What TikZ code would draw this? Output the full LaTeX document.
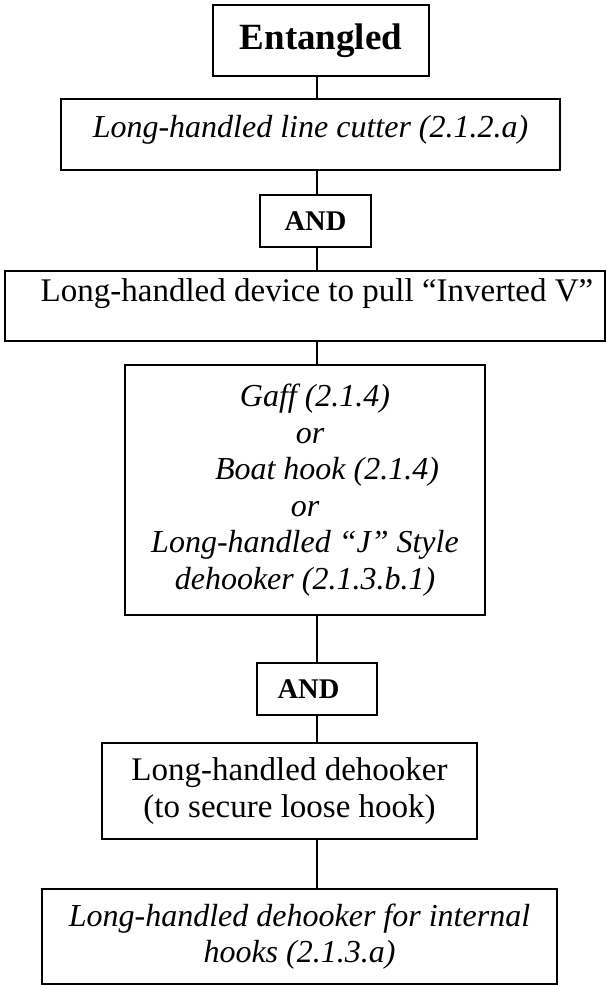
\documentclass[tikz,border=0pt]{standalone}
\usepackage{fontspec}
\setmainfont{Liberation Serif}
\usepackage{tikz}

\newcommand{\bodysize}{\fontsize{16.5}{18.25}\selectfont}
\newcommand{\italsize}{\fontsize{16}{18.25}\selectfont\itshape}
\newcommand{\andsize}{\fontsize{14.25}{16}\selectfont\bfseries}
\newcommand{\headsize}{\fontsize{18.5}{20}\selectfont\bfseries}

\tikzset{
  flowbox/.style={draw, line width=1pt, inner sep=0pt, align=center, font=\bodysize},
  italbox/.style={flowbox, font=\italsize},
  andbox/.style={flowbox, font=\andsize, minimum height=26pt},
}

\begin{document}
\begin{tikzpicture}[x=0.5pt,y=0.5pt,yscale=-1,xscale=1]
\useasboundingbox (0,0) rectangle (606,985);
\coordinate (spine) at (317,0);

% Text Node
\node [flowbox, font=\headsize, minimum width=108pt, minimum height=35.5pt] (entangled) at (321,40.5) {Entangled};
% Text Node
\node [italbox, minimum width=249.5pt, minimum height=35.5pt, text depth=7.9pt] (cutter) at (310.5,134.5) {Long-handled line cutter (2.1.2.a)};
% Text Node
\node [andbox, minimum width=55.5pt] (and1) at (315.5,221) {AND};
% Text Node
\node [flowbox, minimum width=300pt, minimum height=35pt, text depth=16.3pt] (device) at (305,306) {\hspace*{12pt}Long-handled device to pull ``Inverted V''};
% Text Node
\node [italbox, minimum width=180pt, minimum height=125pt] (choice) at (305,490) {\hspace*{10pt}Gaff (2.1.4)\\ \hspace*{5pt}or\\ \hspace*{22pt}Boat hook (2.1.4)\\ or\\ Long-handled ``J'' Style\\ dehooker (2.1.3.b.1)};
% Text Node
\node [andbox, minimum width=60pt] (and2) at (317,689) {AND\hspace*{8.5pt}};
% Text Node
\node [flowbox, minimum width=187.5pt, minimum height=48pt] (dehooker) at (289.5,791) {Long-handled dehooker\\ (to secure loose hook)};
% Text Node
\node [italbox, minimum width=257.5pt, minimum height=47.5pt] (internal) at (299.5,936.5) {Long-handled dehooker for internal\\ hooks (2.1.3.a)};

%Straight Lines
\foreach \a/\b in {entangled/cutter, cutter/and1, and1/device, device/choice, choice/and2, and2/dehooker, dehooker/internal}
  \draw [line width=1pt] (spine |- \a.south) -- (spine |- \b.north);
\end{tikzpicture}
\end{document}
